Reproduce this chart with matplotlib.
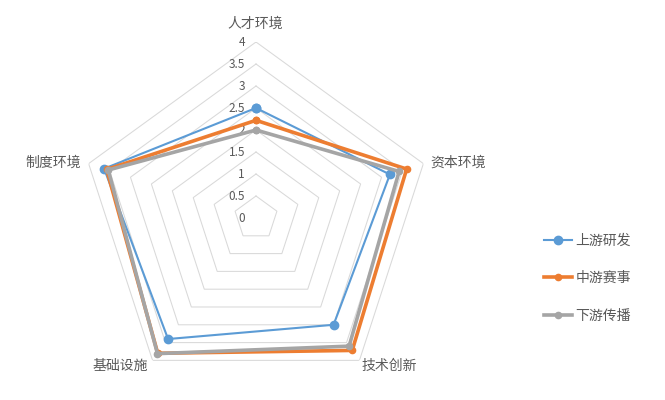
import numpy as np
import matplotlib
matplotlib.use("Agg")
import matplotlib.pyplot as plt
from matplotlib.lines import Line2D
from matplotlib.transforms import offset_copy

plt.rcParams['font.family'] = ['Noto Sans CJK SC', 'DejaVu Sans']

categories = ['人才环境', '资本环境', '技术创新', '基础设施', '制度环境']
series_names = ['上游研发', '中游赛事', '下游传播']
upstream = [2.5, 3.2, 3.0, 3.4, 3.63]
midstream = [2.22, 3.6, 3.72, 3.8, 3.57]
downstream = [2.0, 3.42, 3.6, 3.81, 3.53]
tick_values = [0, 0.5, 1, 1.5, 2, 2.5, 3, 3.5, 4]
tick_labels = ['0', '0.5', '1', '1.5', '2', '2.5', '3', '3.5', '4']

colors = ['#5B9BD5', '#ED7D31', '#A5A5A5']
W, H = 665, 400
fig = plt.figure(figsize=(W / 100, H / 100), dpi=100)
cx, cy, R = 256, 218, 176
ax = fig.add_axes([(cx - R) / W, (H - cy - R) / H, 2 * R / W, 2 * R / H], projection='polar')
ax.set_theta_offset(np.pi / 2)
ax.set_theta_direction(-1)
ax.set_ylim(0, 4)
ax.grid(False)
ax.spines['polar'].set_visible(False)
ax.set_xticks([])
ax.set_yticks([])
ax.patch.set_alpha(0)

n = len(categories)
angles = np.linspace(0, 2 * np.pi, n, endpoint=False)
ang_closed = np.concatenate([angles, angles[:1]])

for tv in tick_values[1:]:
    ax.plot(ang_closed, [tv] * (n + 1), color='#D9D9D9', lw=0.75, zorder=1)

tt = offset_copy(ax.transData, fig=fig, x=-11, y=0, units='dots')
for tv, tl in zip(tick_values, tick_labels):
    ax.text(0, tv, tl, transform=tt, ha='right', va='center', fontsize=8.5, color='#595959')

data = [upstream, midstream, downstream]
lws = [1.5, 2.6, 2.6]
mss = [6, 4.5, 4.5]
for vals, c, lw, ms, name in zip(data, colors, lws, mss, series_names):
    v = list(vals) + [vals[0]]
    ax.plot(ang_closed, v, color=c, lw=lw, marker='o', ms=ms, label=name, zorder=3,
            solid_joinstyle='round')

offsets = [(-1, 18, 'center', 'center'), (7, 1, 'left', 'center'), (2, -6, 'left', 'center'),
           (-5, -6, 'right', 'center'), (-8, 1, 'right', 'center')]
for a, cat, (dx, dy, ha, va) in zip(angles, categories, offsets):
    ax.annotate(cat, xy=(a, 4), xytext=(dx, dy), textcoords='offset pixels',
                ha=ha, va=va, fontsize=10, color='#595959', annotation_clip=False)

handles = [Line2D([0], [0], color=c, lw=lw, marker='o', ms=ms) for c, lw, ms in zip(colors, lws, mss)]
fig.legend(handles, series_names, loc='center left', bbox_to_anchor=(544 / W, 1 - 278 / H),
           frameon=False, fontsize=10, labelcolor='#595959', handlelength=2.0,
           handletextpad=0.25, labelspacing=1.7, borderpad=0, borderaxespad=0)

fig.savefig('out.png', dpi=100)
